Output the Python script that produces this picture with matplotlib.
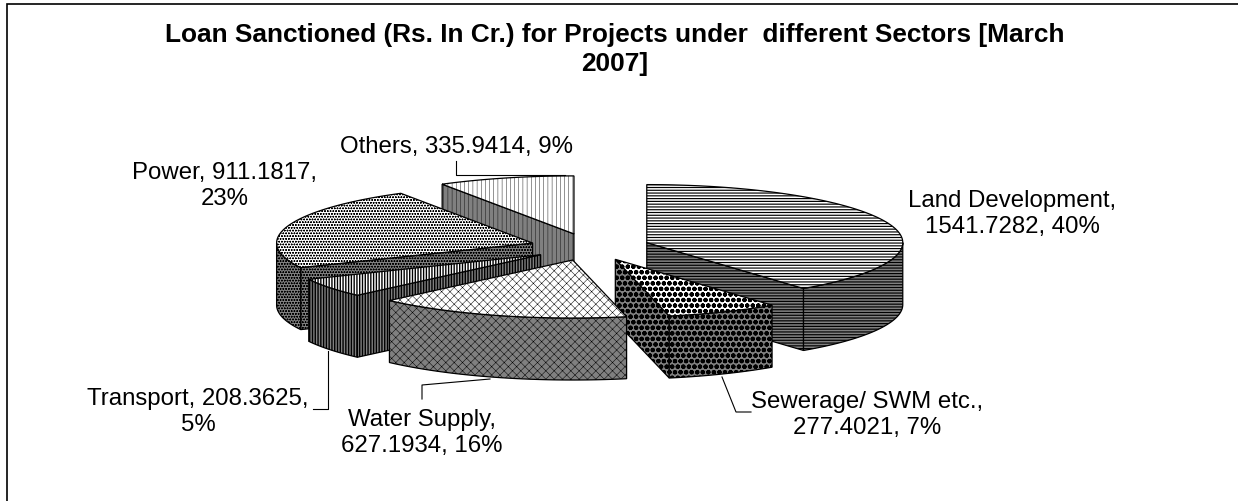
import numpy as np
import matplotlib
matplotlib.use("Agg")
import matplotlib.pyplot as plt
from matplotlib.patches import Polygon

plt.rcParams['font.family'] = ['Liberation Sans', 'DejaVu Sans']

# ---- data ----
categories = ["Land Development", "Sewerage/ SWM etc.", "Water Supply", "Transport", "Power", "Others"]
values = [1541.7282, 277.4021, 627.1934, 208.3625, 911.1817, 335.9414]
pct_labels = ["40%", "7%", "16%", "5%", "23%", "9%"]
title_text = "Loan Sanctioned (Rs. In Cr.) for Projects under  different Sectors [March\n2007]"

# ---- style ----
hatches = ["------", "ooo", "xxxx", "||||||", "oooooo", "||||"]
hatch_lw = [0.85, 1.5, 0.35, 1.0, 0.4, 0.3]
draw_order = [5, 0, 4, 3, 1, 2]
label_text = [
    "Land Development,\n1541.7282, 40%",
    "Sewerage/ SWM etc.,\n277.4021, 7%",
    "Water Supply,\n627.1934, 16%",
    "Transport, 208.3625,\n5%",
    "Power, 911.1817,\n23%",
    "Others, 335.9414, 9%",
]
label_pos = [(1012, 214), (867, 415), (422, 433), (198, 412), (225, 186), (456, 147)]
leaders = [None,
           [(722, 378), (736, 413), (751, 413)],
           [(422, 400), (422, 386), (490, 380)],
           [(328, 352), (328, 410), (313, 410)],
           None,
           [(456, 162), (456, 176), (565, 176)]]

CX, CY, R, RY, H, EXPLODE = 590, 248, 256, 58, 62, 60

fig = plt.figure(figsize=(12.38, 5.02), dpi=100, facecolor="white")
ax = fig.add_axes([0, 0, 1, 1])
ax.set_xlim(0, 1238)
ax.set_ylim(502, 0)
ax.axis("off")
ax.plot([7, 7, 1238], [502, 4.5, 4.5], color="black", lw=1.2, zorder=0, solid_joinstyle="miter")


def rim(theta, ax0, ay0):
    return ax0 + R * np.sin(theta), ay0 - RY * np.cos(theta)


fractions = np.array(values) / np.sum(values)
edges = np.concatenate([[0], np.cumsum(fractions)]) * 2 * np.pi

z = 1
for i in draw_order:
    t0, t1 = edges[i], edges[i + 1]
    mid = (t0 + t1) / 2
    px = CX + EXPLODE * np.sin(mid)
    py = CY - EXPLODE * (RY / R) * np.cos(mid)
    kw = dict(hatch=hatches[i], edgecolor="black", lw=0.9, joinstyle="miter")

    def face(pts, fc):
        global z
        p = Polygon(pts, closed=True, facecolor=fc, **kw)
        p.set_hatch_linewidth(hatch_lw[i])
        p.set_zorder(z)
        ax.add_patch(p)
        z += 1

    # radial side faces
    for th, vis in ((t0, np.sin(t0) < -1e-6), (t1, np.sin(t1) > 1e-6)):
        if vis:
            x, y = rim(th, px, py)
            face([(px, py), (x, y), (x, y + H), (px, py + H)], "#808080")
    # outer rim
    a, b = max(t0, np.pi / 2), min(t1, 3 * np.pi / 2)
    if b > a:
        th = np.linspace(a, b, 60)
        x, y = rim(th, px, py)
        pts = list(zip(x, y)) + list(zip(x[::-1], y[::-1] + H))
        face(pts, "#808080")
    # top
    th = np.linspace(t0, t1, 120)
    x, y = rim(th, px, py)
    face([(px, py)] + list(zip(x, y)), "white")

for pts in leaders:
    if pts:
        xs, ys = zip(*pts)
        ax.plot(xs, ys, color="black", lw=0.8, zorder=200)

for txt, (x, y) in zip(label_text, label_pos):
    ax.text(x, y, txt, ha="center", va="center", fontsize=17.3, linespacing=1.2, zorder=300)

ax.text(615, 49.5, title_text, ha="center", va="center", fontsize=18.9, fontweight="bold",
        linespacing=1.3, zorder=300)

fig.savefig("out.png", dpi=100, facecolor="white")
